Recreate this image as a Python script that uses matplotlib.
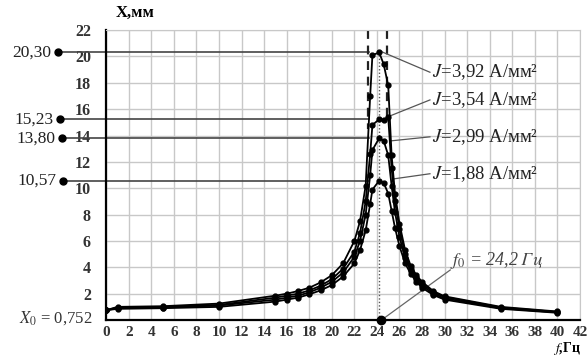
import matplotlib.pyplot as plt
import numpy as np

plt.rcParams["font.family"] = ["Liberation Serif", "DejaVu Serif"]
plt.rcParams["mathtext.fontset"] = "stix"

# frequency points, Hz
freq = [0, 1, 5, 10, 15, 16, 17, 18, 19, 20, 21, 22, 22.5, 23, 23.4, 23.6,
        24.2, 24.6, 25, 25.3, 25.6, 26, 26.5, 27, 27.5, 28, 29, 30, 35, 40]

# amplitude X, mm for each current density
x_188 = [0.75, 0.85, 0.9, 1.0, 1.4, 1.55, 1.7, 1.95, 2.25, 2.65, 3.3, 4.3, 5.3, 6.8, 8.8, 9.9,
         10.57, 10.4, 9.6, 8.3, 7.0, 5.6, 4.3, 3.5, 2.9, 2.45, 1.9, 1.55, 0.85, 0.55]
x_299 = [0.75, 0.9, 0.95, 1.1, 1.55, 1.7, 1.85, 2.1, 2.45, 2.9, 3.6, 4.8, 6.0, 8.0, 11.0, 12.9,
         13.80, 13.6, 12.5, 10.2, 8.2, 6.3, 4.7, 3.7, 3.1, 2.6, 2.0, 1.65, 0.9, 0.58]
x_354 = [0.75, 0.95, 1.0, 1.15, 1.7, 1.85, 2.0, 2.25, 2.6, 3.1, 3.9, 5.2, 6.6, 9.0, 12.6, 14.8,
         15.23, 15.2, 15.4, 11.5, 9.0, 6.9, 5.0, 3.9, 3.25, 2.75, 2.1, 1.75, 0.95, 0.62]
x_392 = [0.75, 1.0, 1.05, 1.25, 1.85, 2.0, 2.2, 2.45, 2.85, 3.4, 4.3, 6.0, 7.5, 10.2, 17.0, 20.1,
         20.30, 19.4, 17.8, 12.5, 9.6, 7.3, 5.3, 4.1, 3.4, 2.9, 2.2, 1.8, 1.0, 0.65]

series = [x_188, x_299, x_354, x_392]
peaks = [10.57, 13.80, 15.23, 20.30]
peak_labels = ["10,57", "13,80", "15,23", "20,30"]
j_labels = ["1,88", "2,99", "3,54", "3,92"]
f0 = 24.2

fig = plt.figure(figsize=(5.87, 3.58), dpi=100)
ax = fig.add_axes([0.181, 0.106, 0.807, 0.810])

ax.set_xlim(0, 42)
ax.set_ylim(0, 22)
ax.set_xticks(np.arange(0, 43, 2))
ax.set_yticks(np.arange(2, 23, 2))
ax.grid(True, color="#c8c8c8", lw=1.0)
ax.set_axisbelow(True)
for s in ["top", "right"]:
    ax.spines[s].set_color("#c8c8c8")
for s in ["left", "bottom"]:
    ax.spines[s].set_linewidth(1.6)
ax.tick_params(length=0, labelsize=11.5, colors="#333333")
ax.tick_params(axis="y", pad=11)
ax.tick_params(axis="x", pad=4, labelsize=11)
for lab in ax.get_xticklabels() + ax.get_yticklabels():
    lab.set_fontweight("bold")

# reference lines to peak values
for p, lab, xd in zip(peaks, peak_labels, [-3.8, -3.9, -4.1, -4.3]):
    ax.plot([xd, f0 - 0.9], [p, p], color="#444444", lw=1.2, clip_on=False, zorder=2)
    ax.plot(xd, p, "o", color="black", ms=5, clip_on=False)
    ax.text(xd - 0.6, p, lab, ha="right", va="center", fontsize=12.5, color="#222222")

for ys in series:
    ax.plot(freq, ys, "-o", color="black", lw=1.3, ms=3.5, zorder=3)

# dashed jump lines and resonance frequency
ax.plot([23.2, 23.2], [22, 14.5], ls=(0, (4, 3)), color="#222222", lw=1.6)
ax.plot([24.9, 24.9], [22, 15.4], ls=(0, (4, 3)), color="#222222", lw=1.6)
ax.plot([f0, f0], [0, 20.3], ls=(0, (1, 1.5)), color="#555555", lw=1.0)
ax.plot(f0 + 0.2, 0, "o", color="black", ms=6, clip_on=False, zorder=4)
ax.plot([f0 + 0.2, 30.5], [0, 3.8], color="#666666", lw=0.9)
ax.text(30.5, 4.5, r"$f_0$ = 24,2 $Гц$", fontsize=13, color="#444444",
        ha="left", va="center", style="italic")

# current density labels
label_pos = [(28.9, 11.1), (28.9, 13.9), (28.9, 16.7), (28.9, 18.8)]
anchor = [(25.4, 10.7), (25.3, 13.6), (25.2, 15.5), (24.3, 20.4)]
for (tx, ty), (axx, ayy), jl in zip(label_pos, anchor, j_labels):
    ax.plot([axx, tx - 0.2], [ayy, ty], color="#555555", lw=0.9, zorder=2)
    ax.text(tx, ty, r"$J$=" + jl + " А/мм²", fontsize=13.5, color="#222222",
            ha="left", va="center")

ax.text(-1.2, 0.15, r"$X_0$ = 0,752", ha="right", va="center", fontsize=12,
        color="#333333", transform=ax.transData)
ax.text(0.8, 22.7, "X,мм", fontsize=12, fontweight="bold", ha="left", va="bottom")
fig.text(0.99, 0.018, r"$\mathbf{\mathit{f}}$,Гц", fontsize=10, fontweight="bold",
         ha="right", va="baseline")

fig.savefig("out.png", dpi=100)
